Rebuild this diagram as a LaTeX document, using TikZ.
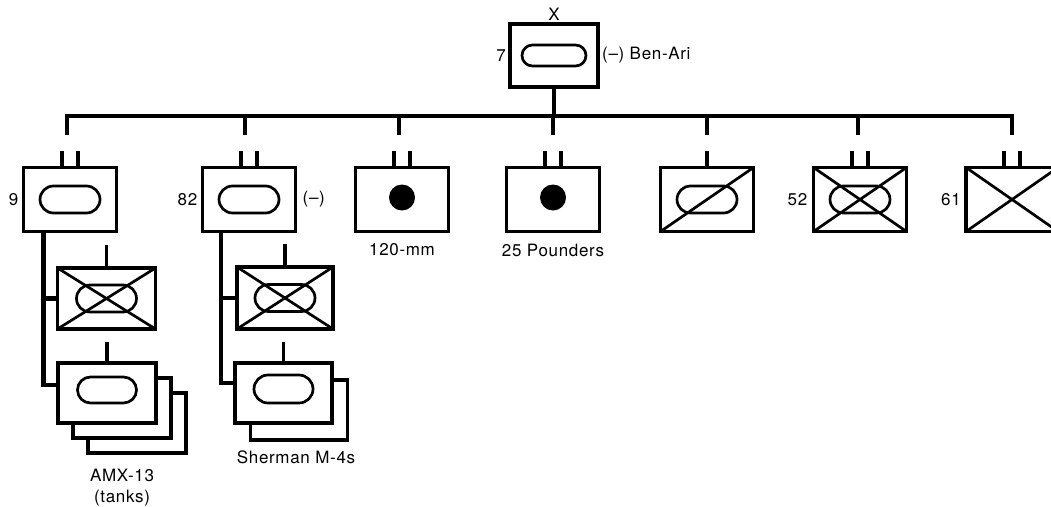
\documentclass[tikz,border=0pt]{standalone}
\usepackage{fontspec}
\setmainfont[LetterSpace=4]{TeX Gyre Heros}
\begin{document}
\begin{tikzpicture}[x=1pt,y=-1pt,
  unit/.style={draw, line width=3.4pt, minimum width=93pt, minimum height=64pt,
               inner sep=0pt, outer sep=0pt, fill=white},
  subunit/.style={unit, minimum width=98pt, minimum height=61pt},
  pill/.style={draw, line width=2.7pt, minimum width=60pt, minimum height=27pt,
               rounded corners=13.5pt, inner sep=0pt},
  gun/.style={circle, fill=black, minimum size=26pt, inner sep=0pt},
  link/.style={line width=4.2pt},
  tick/.style={line width=3.8pt},
  cross/.style={line width=2.7pt},
  lbl/.style={font=\fontsize{17}{19}\selectfont, inner sep=0pt}]
\useasboundingbox (0,0) rectangle (1051,506);

% ---- brigade headquarters ----
\node[unit, minimum width=88pt, minimum height=63pt] (T) at (554,55.5) {};
\node[pill, minimum width=64pt, minimum height=21pt, rounded corners=10.5pt] (Tp) at (T) {};
\node[lbl, anchor=south] (Tx) at ([yshift=3pt]T.north) {X};
\node[lbl, anchor=east] (T7) at ([xshift=-4pt]T.west) {7};
\node[lbl, anchor=west] (Tn) at ([xshift=4pt]T.east) {(–) Ben-Ari};

% ---- distribution bar ----
\coordinate (d1) at (67,116);
\coordinate (d2) at (245,116);
\coordinate (d3) at (399,116);
\coordinate (d4) at (553,116);
\coordinate (d5) at (707,116);
\coordinate (d6) at (858,116);
\coordinate (d7) at (1012,116);
\draw[link] (T.south) -- (T.south |- d4);
\draw[link] ([yshift=-19pt]d1) -- (d1) -- (d7) -- ([yshift=-19pt]d7);
\foreach \d in {d2,d3,d4,d5,d6}
  \draw[link] (\d) -- ([yshift=-19pt]\d);

% ---- subordinate units ----
\node[unit] (b9)  at (70,199.5) {};
\node[unit] (b82) at (249,199.5) {};
\node[unit] (b120) at (402,199.5) {};
\node[unit] (b25) at (553,199.5) {};
\node[unit] (bs)  at (707,199.5) {};
\node[unit] (b52) at (860,199.5) {};
\node[unit, minimum width=92pt] (b61) at (1012,199.5) {};

% double ticks (battalion) and single tick (company)
\foreach \b in {b9,b82,b120,b25,b52,b61}{
  \draw[tick] ([xshift=-8pt]\b.north) -- ++(0,-17);
  \draw[tick] ([xshift=8pt]\b.north) -- ++(0,-17);
}
\draw[tick] (bs.north) -- ++(0,-17);

% symbols
\node[pill] (p9) at (b9) {};
\node[pill] (p82) at (b82) {};
\node[gun] (g120) at ([yshift=2pt]b120.center) {};
\node[gun] (g25) at ([yshift=2pt]b25.center) {};
\node[pill] (ps) at (bs) {};
\draw[cross] (bs.south west) -- (bs.north east);
\node[pill] (p52) at (b52) {};
\draw[cross] (b52.north west) -- (b52.south east) (b52.south west) -- (b52.north east);
\draw[cross] (b61.north west) -- (b61.south east) (b61.south west) -- (b61.north east);

% labels
\node[lbl, anchor=east] (l9) at ([xshift=-5pt]b9.west) {9};
\node[lbl, anchor=east] (l82) at ([xshift=-5pt]b82.west) {82};
\node[lbl, anchor=west] (r82) at ([xshift=7pt]b82.east) {(–)};
\node[lbl] (l120) at (402,250) {120-mm};
\node[lbl] (l25) at (553,250) {25 Pounders};
\node[lbl, anchor=east] (l52) at ([xshift=-6pt]b52.west) {52};
\node[lbl, anchor=east] (l61) at ([xshift=-5pt]b61.west) {61};

% ---- units attached to 9 ----
\node[subunit] (s9x) at (106.5,298.5) {};
\node[pill] (s9xp) at (s9x) {};
\draw[cross] (s9x.north west) -- (s9x.south east) (s9x.south west) -- (s9x.north east);
\draw[tick] (s9x.north) -- ++(0,-23);
\node[subunit, minimum height=60pt] (s9t3) at (137,423) {};
\node[subunit, minimum height=60pt] (s9t2) at (122,408) {};
\node[subunit, minimum height=60pt] (s9t) at (107,393) {};
\node[pill, minimum width=59pt, minimum height=26pt, rounded corners=13pt] (s9tp) at ([yshift=3pt]s9t.center) {};
\draw[tick] (s9t.north) -- ++(0,-21);
\draw[link] ([xshift=20pt]b9.south west) |- ([yshift=8pt]s9t.west);
\draw[link] ([xshift=20pt]b9.south west |- s9x.west) -- (s9x.west);
\node[lbl] (a1) at (122,475) {AMX-13};
\node[lbl] (a2) at (122,498) {(tanks)};

% ---- units attached to 82 ----
\node[subunit, minimum width=96pt, minimum height=62pt] (s82x) at (285,298) {};
\node[pill] (s82xp) at (s82x) {};
\draw[cross] (s82x.north west) -- (s82x.south east) (s82x.south west) -- (s82x.north east);
\draw[tick] (s82x.north) -- ++(0,-23);
\node[subunit, minimum width=97pt, minimum height=60pt] (s82t2) at (299,410) {};
\node[subunit, minimum width=97pt, minimum height=60pt] (s82t) at (283.5,393) {};
\node[pill, minimum width=59pt, minimum height=28pt, rounded corners=14pt] (s82tp) at ([yshift=4pt]s82t.center) {};
\draw[tick] (s82t.north) -- ++(0,-21);
\draw[link] ([xshift=18.5pt]b82.south west) |- ([yshift=10pt]s82t.west);
\draw[link] ([xshift=18.5pt]b82.south west |- s82x.west) -- (s82x.west);
\node[lbl] (sh) at (296,457) {Sherman M-4s};
\end{tikzpicture}
\end{document}
